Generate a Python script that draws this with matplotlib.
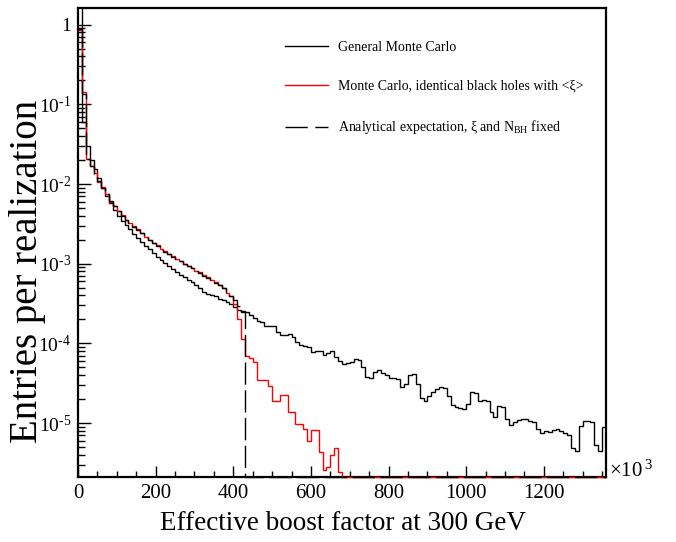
import numpy as np
import matplotlib
matplotlib.use('Agg')
import matplotlib.pyplot as plt
from matplotlib.lines import Line2D
from matplotlib.ticker import FixedLocator, MultipleLocator, NullFormatter

plt.rcParams['font.family'] = ['Liberation Serif', 'DejaVu Serif']
plt.rcParams['mathtext.fontset'] = 'custom'
plt.rcParams['mathtext.rm'] = 'Liberation Serif'
plt.rcParams['mathtext.it'] = 'Liberation Serif:italic'
plt.rcParams['mathtext.default'] = 'regular'

# ---------------- data (log10 of entries per realization, 10-wide bins) ----------------
bin_width = 10
x_max = 1360

general_mc_log10 = [
    0.30, -1.22, -1.52, -1.70, -1.81, -1.93, -2.05, -2.15, -2.24, -2.32,
    -2.40, -2.46, -2.52, -2.57, -2.63, -2.68, -2.73, -2.78, -2.82, -2.86,
    -2.91, -2.95, -2.99, -3.03, -3.07, -3.11, -3.14, -3.17, -3.20, -3.23,
    -3.27, -3.31, -3.35, -3.38, -3.39, -3.41, -3.44, -3.46, -3.48, -3.51,
    -3.55, -3.58, -3.61, -3.61, -3.64, -3.68, -3.72, -3.73, -3.78, -3.78,
    -3.78, -3.86, -3.90, -3.90, -3.88, -3.92, -3.98, -4.02, -4.03, -4.05,
    -4.11, -4.10, -4.10, -4.15, -4.12, -4.10, -4.17, -4.22, -4.26, -4.25,
    -4.23, -4.20, -4.21, -4.30, -4.42, -4.43, -4.36, -4.34, -4.37, -4.40,
    -4.44, -4.44, -4.45, -4.55, -4.51, -4.40, -4.39, -4.51, -4.68, -4.72,
    -4.66, -4.61, -4.57, -4.55, -4.56, -4.66, -4.77, -4.80, -4.81, -4.83,
    -4.76, -4.61, -4.62, -4.72, -4.71, -4.72, -4.86, -4.93, -4.79, -4.80,
    -4.95, -5.02, -4.99, -4.96, -4.95, -4.95, -4.97, -4.99, -5.07, -5.12,
    -5.10, -5.11, -5.09, -5.08, -5.10, -5.13, -5.15, -5.32, -5.35, -5.04,
    -4.98, -4.98, -4.99, -5.27, -5.35, -5.05,
]

identical_bh_log10 = [
    -0.07, -0.85, -1.69, -1.77, -1.86, -1.97, -2.04, -2.13, -2.22, -2.28,
    -2.34, -2.39, -2.45, -2.49, -2.53, -2.57, -2.62, -2.66, -2.70, -2.74,
    -2.77, -2.81, -2.84, -2.88, -2.90, -2.94, -2.97, -3.00, -3.03, -3.06,
    -3.09, -3.11, -3.14, -3.17, -3.20, -3.23, -3.27, -3.31, -3.37, -3.41,
    -3.50, -3.69, -3.95, -4.16, -4.18, -4.24, -4.46, -4.46, -4.46, -4.53,
    -4.72, -4.72, -4.65, -4.65, -4.86, -4.86, -5.01, -5.01, -5.07, -5.22,
    -5.09, -5.09, -5.36, -5.59, -5.55, -5.40, -5.31, -5.61,
]

analytical_log10 = [
    -0.05, -0.87, -1.68, -1.78, -1.87, -1.96, -2.05, -2.13, -2.21, -2.28,
    -2.34, -2.40, -2.45, -2.49, -2.54, -2.58, -2.62, -2.66, -2.70, -2.74,
    -2.78, -2.81, -2.85, -2.88, -2.91, -2.94, -2.97, -3.00, -3.03, -3.06,
    -3.09, -3.12, -3.15, -3.18, -3.21, -3.24, -3.27, -3.31, -3.35, -3.40,
    -3.46, -3.53, -3.60,
]

labels = [
    "General Monte Carlo",
    "Monte Carlo, identical black holes with <\u03be>",
    "Analytical expectation, \u03be and N$_{BH}$ fixed",
]

x_ticks = [0, 200, 400, 600, 800, 1000, 1200]
y_ticks = [1, 1e-1, 1e-2, 1e-3, 1e-4, 1e-5]
y_tick_labels = ["1", "$10^{\u20101}$", "$10^{\u20102}$", "$10^{\u20103}$",
                 "$10^{\u20104}$", "$10^{\u20105}$"]

# ---------------- figure ----------------
W, H = 676, 542
fig = plt.figure(figsize=(W / 100, H / 100), dpi=100)
ax = fig.add_axes([78 / W, 1 - 477 / H, (606 - 78) / W, (477 - 8) / H])
ax.set_yscale('log')
ymin, ymax = 2.1e-6, 1.62
ax.set_xlim(0, x_max)
ax.set_ylim(ymin, ymax)

edges = np.arange(0, x_max + bin_width, bin_width)
nb = len(edges) - 1


def to_values(logs):
    arr = np.zeros(nb)
    arr[:len(logs)] = 10.0 ** np.array(logs)
    # empty bins are drawn on the axis floor, as in the original
    return np.where(arr > 0, arr, ymin)


gen = to_values(general_mc_log10)
red = to_values(identical_bh_log10)
ana = to_values(analytical_log10)

ax.stairs(gen, edges, baseline=None, color='black', lw=1.0, zorder=3)
ax.stairs(red, edges, baseline=None, color='#ff0000', lw=1.0, zorder=3.1,
          clip_on=False)
ax.stairs(ana, edges, baseline=None, color='black', lw=1.0, zorder=3.2,
          linestyle=(0, (16, 4)), clip_on=False)

for s in ax.spines.values():
    s.set_linewidth(1.6)

ax.xaxis.set_major_locator(FixedLocator(x_ticks))
ax.xaxis.set_minor_locator(MultipleLocator(50))
ax.set_yticks(y_ticks)
ax.set_yticklabels(y_tick_labels)
minor_y = [m * 10.0 ** e for e in range(-6, 1) for m in range(2, 10)]
ax.yaxis.set_minor_locator(FixedLocator(minor_y))
ax.yaxis.set_minor_formatter(NullFormatter())

ax.tick_params(axis='both', which='both', direction='in', top=False, right=False)
ax.tick_params(axis='x', which='major', length=8, width=1, labelsize=15, pad=5)
ax.tick_params(axis='x', which='minor', length=4, width=1)
ax.tick_params(axis='y', which='major', length=9, width=1, labelsize=14, pad=5)
ax.tick_params(axis='y', which='minor', length=5, width=1)

fig.text(343 / W, 1 - 523 / H, "Effective boost factor at 300 GeV",
         ha='center', va='center', fontsize=19.5)
fig.text(28 / W, 1 - 271 / H, "Entries per realization",
         ha='center', va='center', rotation=90, fontsize=28)
fig.text(609 / W, 1 - 477 / H, "\u00d710$^{\u20093}$", ha='left', va='baseline',
         fontsize=15, family=['Liberation Serif', 'DejaVu Sans'])

handles = [
    Line2D([], [], color='black', lw=1.0),
    Line2D([], [], color='#ff0000', lw=1.0),
    Line2D([], [], color='black', lw=1.0, linestyle=(0, (16, 5.5))),
]
ax.legend(handles, labels, loc='upper left', frameon=False,
          bbox_to_anchor=(285 / W, 1 - 41 / H), bbox_transform=fig.transFigure,
          borderaxespad=0, borderpad=0, fontsize=10, handlelength=3.1,
          handletextpad=0.75, labelspacing=1.85)

fig.savefig('out.png', dpi=100)
